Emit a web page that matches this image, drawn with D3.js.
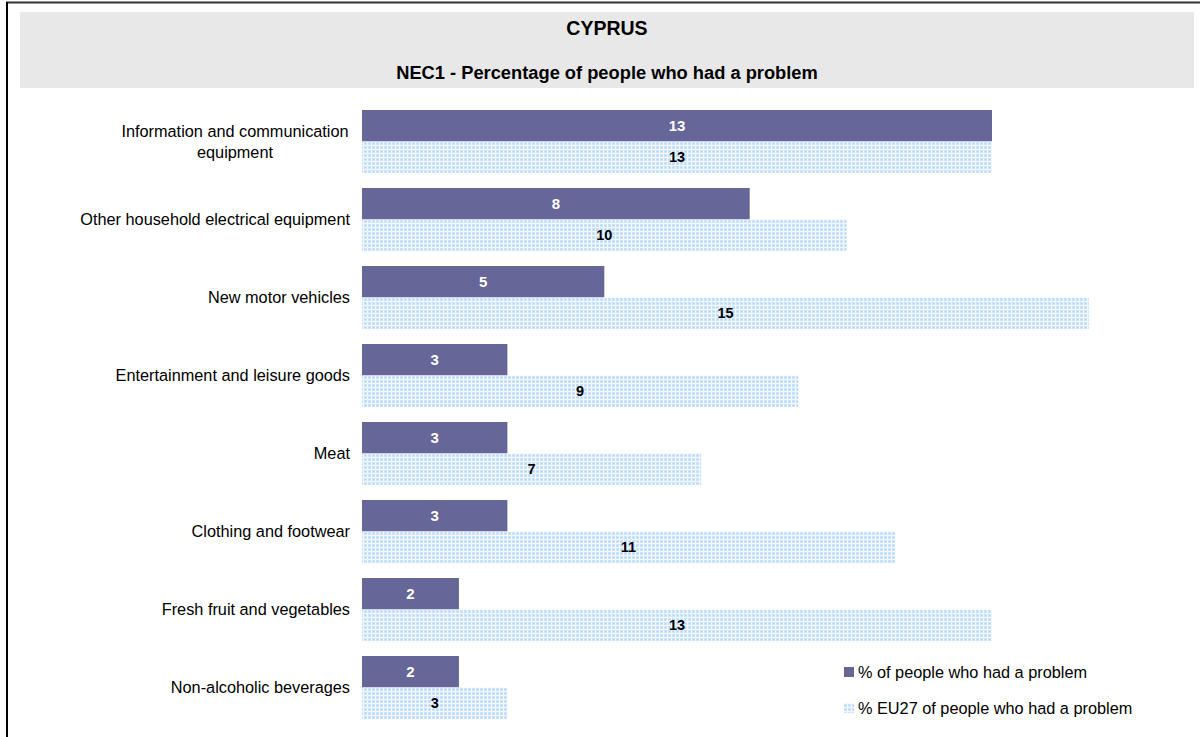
<!DOCTYPE html>
<html>
<head>
<meta charset="utf-8">
<script src="https://cdn.jsdelivr.net/npm/d3@7"></script>
<style>
  html, body { margin: 0; padding: 0; background: #fff; }
  svg { display: block; font-family: "Liberation Sans", Arial, sans-serif; }
</style>
</head>
<body>
<svg id="chart" width="1200" height="737"></svg>
<script>
// Country chart: NEC1 - share of people who had a problem, by product category
const categories = [
  "Information and communication equipment",
  "Other household electrical equipment",
  "New motor vehicles",
  "Entertainment and leisure goods",
  "Meat",
  "Clothing and footwear",
  "Fresh fruit and vegetables",
  "Non-alcoholic beverages"
];
// Line breaks used for long category names
const categoryLines = [
  ["Information and communication", "equipment"],
  ["Other household electrical equipment"],
  ["New motor vehicles"],
  ["Entertainment and leisure goods"],
  ["Meat"],
  ["Clothing and footwear"],
  ["Fresh fruit and vegetables"],
  ["Non-alcoholic beverages"]
];
const countryValues = [13, 8, 5, 3, 3, 3, 2, 2];
const eu27Values = [13, 10, 15, 9, 7, 11, 13, 3];
const seriesNames = ["% of people who had a problem", "% EU27 of people who had a problem"];
const chartTitle = "CYPRUS";
const chartSubtitle = "NEC1 - Percentage of people who had a problem";

const svg = d3.select("#chart");
const W = 1200, H = 737;

// Dotted fill for the EU27 series
const defs = svg.append("defs");
const pat = defs.append("pattern")
  .attr("id", "dots")
  .attr("patternUnits", "userSpaceOnUse")
  .attr("width", 4).attr("height", 4);
pat.append("rect").attr("width", 4).attr("height", 4).attr("fill", "#f2f8ff");
pat.append("rect").attr("x", 0).attr("y", 0).attr("width", 3).attr("height", 3).attr("fill", "#cce4ff");
pat.append("rect").attr("x", 1).attr("y", 1).attr("width", 1).attr("height", 1).attr("fill", "#a6d0ff");

// Outer frame (top and left edges)
svg.append("line").attr("x1", 6).attr("x2", W).attr("y1", 2.5).attr("y2", 2.5)
  .attr("stroke", "#333").attr("stroke-width", 2);
svg.append("line").attr("x1", 7).attr("x2", 7).attr("y1", 2).attr("y2", H)
  .attr("stroke", "#000").attr("stroke-width", 2);

// Header band
svg.append("rect").attr("x", 20).attr("y", 12).attr("width", 1174).attr("height", 76)
  .attr("fill", "#e8e8e8");
svg.append("text").attr("x", 607).attr("y", 35).attr("text-anchor", "middle")
  .attr("font-size", 19.5).attr("font-weight", "bold").attr("fill", "#000").text(chartTitle);
svg.append("text").attr("x", 607).attr("y", 79).attr("text-anchor", "middle")
  .attr("font-size", 18.3).attr("font-weight", "bold").attr("fill", "#000").text(chartSubtitle);

// Scales
const x = d3.scaleLinear().domain([0, 13]).range([362, 992]);
const y = d3.scaleBand().domain(categories).range([102.5, 726.5])
  .paddingInner(15 / 78).paddingOuter(15 / 156);
const sub = d3.scaleBand().domain([0, 1]).range([0, y.bandwidth()]);

const rows = svg.append("g").selectAll("g").data(categories).join("g")
  .attr("transform", d => `translate(0,${y(d)})`);

// Country bars
rows.append("rect")
  .attr("x", x(0)).attr("y", sub(0))
  .attr("width", (d, i) => x(countryValues[i]) - x(0))
  .attr("height", sub.bandwidth())
  .attr("fill", "#666699");

// EU27 bars
rows.append("rect")
  .attr("x", x(0)).attr("y", sub(1))
  .attr("width", (d, i) => x(eu27Values[i]) - x(0))
  .attr("height", sub.bandwidth())
  .attr("fill", "url(#dots)");

// Value labels
rows.append("text")
  .attr("x", (d, i) => (x(0) + x(countryValues[i])) / 2)
  .attr("y", sub(0) + sub.bandwidth() / 2)
  .attr("dy", "0.36em").attr("text-anchor", "middle")
  .attr("font-size", 15).attr("font-weight", "bold").attr("fill", "#fff")
  .text((d, i) => countryValues[i]);
rows.append("text")
  .attr("x", (d, i) => (x(0) + x(eu27Values[i])) / 2)
  .attr("y", sub(1) + sub.bandwidth() / 2)
  .attr("dy", "0.36em").attr("text-anchor", "middle")
  .attr("font-size", 14.5).attr("font-weight", "bold").attr("fill", "#000")
  .text((d, i) => eu27Values[i]);

// Category labels
rows.each(function(d, i) {
  const lines = categoryLines[i];
  const lh = 21;
  const cy = y.bandwidth() / 2;
  const t = d3.select(this).append("text")
    .attr("font-size", 16.3).attr("fill", "#000")
    .attr("text-anchor", lines.length > 1 ? "middle" : "end");
  lines.forEach((ln, k) => {
    t.append("tspan")
      .attr("x", lines.length > 1 ? 235 : 350)
      .attr("y", cy + (k - (lines.length - 1) / 2) * lh)
      .attr("dy", "0.36em")
      .text(ln);
  });
});

// Legend
const legend = svg.append("g");
const legendY = [672, 708];
legend.selectAll("rect").data(seriesNames).join("rect")
  .attr("x", 844).attr("y", (d, i) => legendY[i] - 5)
  .attr("width", 10).attr("height", 10)
  .attr("fill", (d, i) => i === 0 ? "#666699" : "url(#dots)");
legend.selectAll("text").data(seriesNames).join("text")
  .attr("x", 858).attr("y", (d, i) => legendY[i])
  .attr("dy", "0.36em").attr("font-size", 16.3).attr("fill", "#000")
  .text(d => d);
</script>
</body>
</html>
